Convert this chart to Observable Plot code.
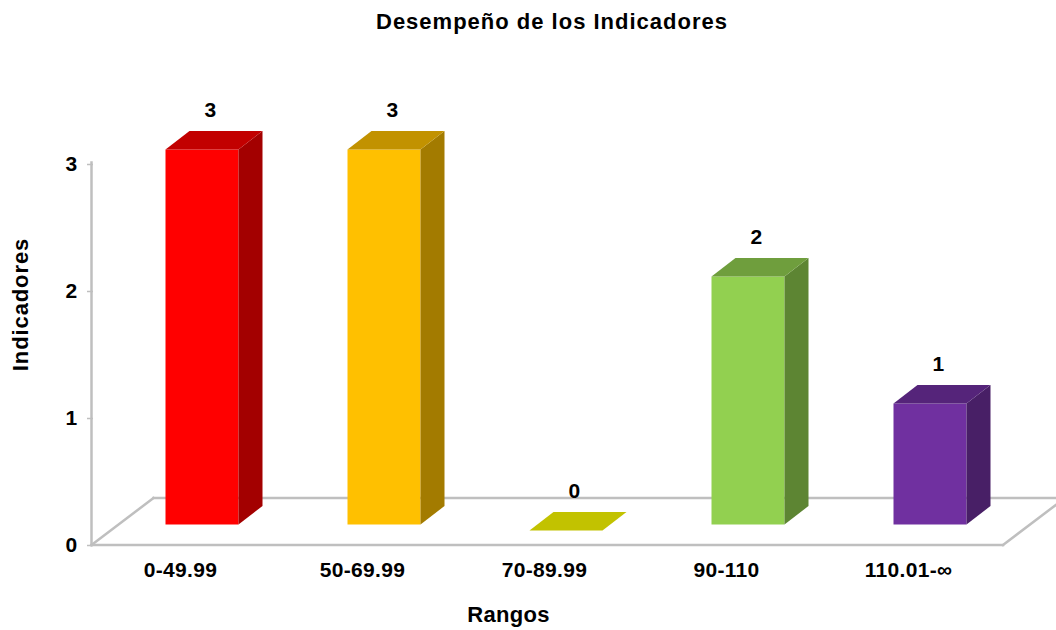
<!DOCTYPE html>
<html>
<head>
<meta charset="utf-8">
<script src="https://cdn.jsdelivr.net/npm/d3@7"></script>
<script src="https://cdn.jsdelivr.net/npm/@observablehq/plot@0.6"></script>
<style>
  body { margin: 0; background: #fff; font-family: "Liberation Sans", Arial, sans-serif; }
  #title { width: 1056px; height: 40px; box-sizing: border-box; padding-top: 11px; padding-left: 48px;
           text-align: center; font-size: 22px; line-height: 22px; font-weight: bold; letter-spacing: 1px; color: #000; }
  #chart svg text { font-family: "Liberation Sans", Arial, sans-serif; letter-spacing: 0.3px; }
  #chart svg .ylab text { letter-spacing: 0.9px; }
</style>
</head>
<body>
<div id="title">Desempeño de los Indicadores</div>
<div id="chart"></div>
<script>
// ---- data ----
const categories = ["0-49.99", "50-69.99", "70-89.99", "90-110", "110.01-∞"];
const counts = [3, 3, 0, 2, 1];
const yTicks = [0, 1, 2, 3];
const palette = ["#FF0000", "#FFC000", "#FFFF00", "#92D050", "#7030A0"];
const xTitle = "Rangos";
const yTitle = "Indicadores";

const data = categories.map((c, i) => ({cat: c, v: counts[i]}));

// ---- geometry (style) ----
const W = 1056, H = 590;
const BAR_INSET = 54.5;     // horizontal inset of the bar front inside its band
const BAR_DX = 18, BAR_DY = -13;   // bar front plane offset from the axis plane
const BASE_INSET = 6;       // visible bottom of bar front above floor line
const DEPTH_X = 24, DEPTH_Y = -18.5; // bar depth
const FLOOR_X = 62, FLOOR_Y = -47;   // floor depth
const GRID = "#BFBFBF";

function shade(c, k) {
  const r = d3.rgb(c);
  return d3.rgb(r.r * k, r.g * k, r.b * k).formatHex();
}

function floorMark(index, scales, values, dims) {
  const {y} = scales;
  const left = dims.marginLeft - 1.5;
  const right = dims.width - dims.marginRight;
  const y0 = y(0) + 1.5;
  const yTop = y(d3.max(yTicks));
  const g = d3.create("svg:g").attr("fill", "none").attr("stroke", GRID)
    .attr("stroke-width", 2.5).attr("stroke-linecap", "square");
  g.append("path").attr("d", `M${left},${yTop}V${y0}`);
  g.append("path").attr("d", `M${left},${y0}H${right}`);
  g.append("path").attr("d", `M${left},${y0}l${FLOOR_X},${FLOOR_Y}`);
  g.append("path").attr("d", `M${left + FLOOR_X},${y0 + FLOOR_Y}H${dims.width + 20}`);
  g.append("path").attr("d", `M${right},${y0}l${FLOOR_X},${FLOOR_Y}`);
  return g.node();
}

function barFaces(index, scales, values, dims) {
  const {x, y} = scales;
  const n = categories.length;
  const bw = (dims.width - dims.marginLeft - dims.marginRight) / n;
  const off = Math.abs(x(categories[0]) - dims.marginLeft) < 1 ? 0 : -bw / 2;
  const g = d3.create("svg:g");
  categories.forEach((c, i) => {
    const base = scales.color ? scales.color(c) : palette[i];
    const start = x(c) + off;
    const xl = start + BAR_INSET + BAR_DX;
    const xr = start + bw - BAR_INSET + BAR_DX;
    const top = y(counts[i]) + BAR_DY;
    const bottom = y(0) + BAR_DY - BASE_INSET;
    if (counts[i] > 0) {
      g.append("polygon")
        .attr("points", [[xr, top], [xr, bottom], [xr + DEPTH_X, bottom + DEPTH_Y], [xr + DEPTH_X, top + DEPTH_Y]].join(" "))
        .attr("fill", shade(base, 0.64));
    }
    g.append("polygon")
      .attr("points", [[xl, top], [xr, top], [xr + DEPTH_X, top + DEPTH_Y], [xl + DEPTH_X, top + DEPTH_Y]].join(" "))
      .attr("fill", shade(base, 0.76));
  });
  return g.node();
}

const chart = Plot.plot({
  width: W,
  height: H,
  marginLeft: 93,
  marginRight: 53,
  marginTop: 122.5,
  marginBottom: 86.5,
  x: {type: "band", domain: categories, padding: 0, axis: null},
  y: {domain: [0, 3], axis: null},
  color: {domain: categories, range: palette},
  style: {fontFamily: "Liberation Sans, Arial, sans-serif", fontSize: "21px", fontWeight: "bold", color: "#000", background: "#fff", overflow: "hidden"},
  marks: [
    floorMark,
    Plot.axisY({ticks: yTicks, tickSize: 6, tickPadding: 10, stroke: GRID, strokeWidth: 1.5, fill: "#000",
                fontSize: 21, fontWeight: "bold", label: null, tickFormat: d => String(d), dy: 1.5}),
    Plot.axisX({tickSize: 0, tickPadding: 18, dx: -4, fill: "#000", fontSize: 21, fontWeight: "bold", label: null}),
    Plot.barY(data, {x: "cat", y: "v", fill: "cat", insetLeft: BAR_INSET, insetRight: BAR_INSET,
                     insetBottom: BASE_INSET, dx: BAR_DX, dy: BAR_DY, filter: d => d.v > 0}),
    barFaces,
    Plot.text(data, {x: "cat", y: "v", text: d => String(d.v), dx: 26, dy: -53, fontSize: 21, fontWeight: "bold", fill: "#000"}),
    Plot.text([xTitle], {frameAnchor: "bottom", text: d => d, textAnchor: "middle", lineAnchor: "middle",
                         dx: -40, dy: 70.5, fontSize: 22, fontWeight: "bold", fill: "#000"}),
    Plot.text([yTitle], {frameAnchor: "left", text: d => d, textAnchor: "middle", lineAnchor: "middle", rotate: -90,
                         dx: -72.5, dy: -49, fontSize: 22, fontWeight: "bold", fill: "#000", className: "ylab"})
  ]
});
document.getElementById("chart").appendChild(chart);
</script>
</body>
</html>
